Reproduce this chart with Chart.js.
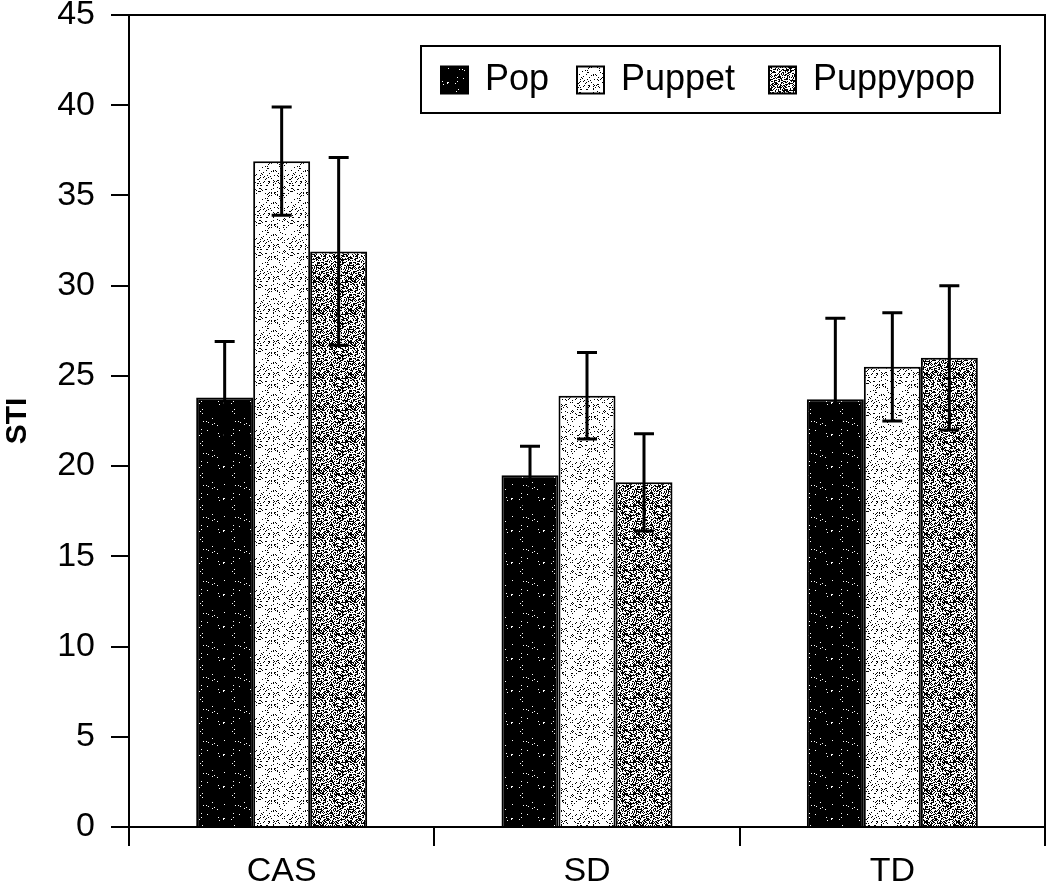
<!DOCTYPE html>
<html>
<head>
<meta charset="utf-8">
<script src="https://cdn.jsdelivr.net/npm/chart.js@4.4.1/dist/chart.umd.min.js"></script>
<style>
  html, body { margin: 0; padding: 0; background: #fff; }
  #wrap { width: 1050px; height: 887px; }
</style>
</head>
<body>
<div id="wrap"><canvas id="myChart" width="1050" height="887"></canvas></div>
<script>
'use strict';

var groups = ['CAS', 'SD', 'TD'];
var seriesNames = ['Pop', 'Puppet', 'Puppypop'];
var popValues = [23.8, 19.5, 23.7];
var puppetValues = [36.9, 23.9, 25.5];
var puppypopValues = [31.9, 19.1, 26.0];
var popErrors = [3.1, 1.6, 4.5];
var puppetErrors = [3.0, 2.4, 3.0];
var puppypopErrors = [5.2, 2.7, 4.0];
var yTicks = [0, 5, 10, 15, 20, 25, 30, 35, 40, 45];

var FONT = '"Liberation Sans", Arial, sans-serif';

// stippled fills (fixed xorshift seed, so the texture is the same every run)
var makePattern = function(base, dot, density, seed) {
    var c = document.createElement('canvas');
    c.width = 32;
    c.height = 32;
    var g = c.getContext('2d');
    g.fillStyle = base;
    g.fillRect(0, 0, 32, 32);
    g.fillStyle = dot;
    var s = seed >>> 0;
    for (var y = 0; y < 32; y++) {
        for (var x = 0; x < 32; x++) {
            s ^= s << 13; s >>>= 0;
            s ^= s >>> 17;
            s ^= s << 5; s >>>= 0;
            if (s / 4294967296 < density) g.fillRect(x, y, 1, 1);
        }
    }
    return g.createPattern(c, 'repeat');
};

var fills = [
    makePattern('#000000', '#ffffff', 0.015, 2463534242),
    makePattern('#ffffff', '#000000', 0.13, 88172645),
    makePattern('#ffffff', '#000000', 0.47, 362436069)
];
var errors = [popErrors, puppetErrors, puppypopErrors];

var errorBars = {
    id: 'errorBars',
    afterDatasetsDraw: function(chart) {
        var ctx = chart.ctx;
        var yScale = chart.scales.y;
        ctx.save();
        ctx.strokeStyle = '#000';
        ctx.lineWidth = 3;
        chart.data.datasets.forEach(function(ds, i) {
            var meta = chart.getDatasetMeta(i);
            meta.data.forEach(function(bar, j) {
                var v = ds.data[j];
                var e = errors[i][j];
                var yTop = yScale.getPixelForValue(v + e);
                var yBot = yScale.getPixelForValue(v - e);
                ctx.beginPath();
                ctx.moveTo(bar.x, yTop);
                ctx.lineTo(bar.x, yBot);
                ctx.moveTo(bar.x - 10, yTop);
                ctx.lineTo(bar.x + 10, yTop);
                ctx.moveTo(bar.x - 10, yBot);
                ctx.lineTo(bar.x + 10, yBot);
                ctx.stroke();
            });
        });
        ctx.restore();
    }
};

var frameAndLegend = {
    id: 'frameAndLegend',
    afterDraw: function(chart) {
        var ctx = chart.ctx;
        var a = chart.chartArea;
        ctx.save();
        ctx.strokeStyle = '#000';
        ctx.lineWidth = 2;
        ctx.beginPath();
        ctx.moveTo(a.left, a.top);
        ctx.lineTo(a.right, a.top);
        ctx.lineTo(a.right, a.bottom);
        ctx.stroke();

        // legend box inside the plot, top right
        var bx = 421, by = 46, bw = 579, bh = 67;
        ctx.fillStyle = '#fff';
        ctx.fillRect(bx, by, bw, bh);
        ctx.lineWidth = 2;
        ctx.strokeRect(bx, by, bw, bh);
        ctx.font = '36px ' + FONT;
        ctx.textBaseline = 'middle';
        var xs = [441, 577, 769];
        chart.data.datasets.forEach(function(ds, i) {
            var x = xs[i], cy = by + bh / 2;
            ctx.fillStyle = fills[i];
            ctx.fillRect(x, cy - 13, 27, 27);
            ctx.lineWidth = 2;
            ctx.strokeRect(x, cy - 13, 27, 27);
            ctx.fillStyle = '#000';
            ctx.fillText(ds.label, x + 44, cy + 1);
        });
        ctx.restore();
    }
};

var ctx = document.getElementById('myChart');
new Chart(ctx, {
    type: 'bar',
    data: {
        labels: groups,
        datasets: [
            { label: seriesNames[0], data: popValues, backgroundColor: fills[0] },
            { label: seriesNames[1], data: puppetValues, backgroundColor: fills[1] },
            { label: seriesNames[2], data: puppypopValues, backgroundColor: fills[2] }
        ].map(function(d) {
            d.borderColor = '#000';
            d.borderWidth = 2;
            d.categoryPercentage = 0.56;
            d.barPercentage = 1.0;
            return d;
        })
    },
    options: {
        responsive: false,
        animation: false,
        events: [],
        layout: { padding: { top: 0, right: 5, left: 0, bottom: 0 } },
        plugins: {
            legend: { display: false },
            tooltip: { enabled: false }
        },
        scales: {
            x: {
                offset: true,
                grid: {
                    offset: true,
                    drawOnChartArea: false,
                    tickLength: 19,
                    color: '#000',
                    lineWidth: 2
                },
                border: { color: '#000', width: 2 },
                ticks: {
                    color: '#000',
                    padding: 5,
                    font: { family: FONT, size: 34 }
                },
                afterFit: function(scale) { scale.height = 60; }
            },
            y: {
                min: 0,
                max: 45,
                afterBuildTicks: function(scale) {
                    scale.ticks = yTicks.map(function(v) { return { value: v }; });
                },
                grid: {
                    drawOnChartArea: false,
                    tickLength: 18,
                    color: '#000',
                    lineWidth: 2
                },
                border: { color: '#000', width: 2 },
                ticks: {
                    color: '#000',
                    padding: 16,
                    font: { family: FONT, size: 34 }
                },
                title: {
                    display: true,
                    text: 'STI',
                    color: '#000',
                    padding: 0,
                    font: { family: FONT, size: 30, weight: 'bold' }
                },
                afterFit: function(scale) {
                    scale.width = 129;
                    scale.paddingTop = 15;
                    scale.paddingBottom = 0;
                }
            }
        }
    },
    plugins: [errorBars, frameAndLegend]
});
</script>
</body>
</html>
